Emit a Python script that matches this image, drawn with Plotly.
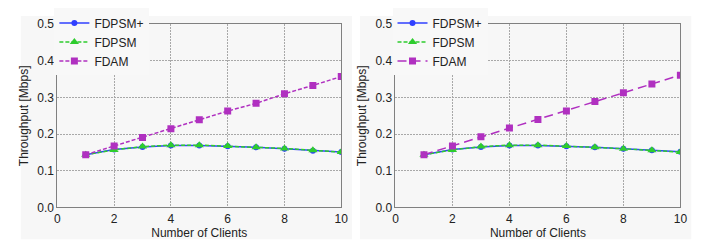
import plotly.graph_objects as go

clients = [1, 2, 3, 4, 5, 6, 7, 8, 9, 10]

# Left panel
left_fdpsm_plus = [0.144, 0.158, 0.165, 0.169, 0.169, 0.167, 0.164, 0.160, 0.155, 0.151]
left_fdpsm = [0.144, 0.157, 0.166, 0.170, 0.170, 0.168, 0.164, 0.161, 0.156, 0.151]
left_fdam = [0.144, 0.168, 0.191, 0.215, 0.239, 0.263, 0.284, 0.310, 0.333, 0.357]

# Right panel
right_fdpsm_plus = [0.144, 0.158, 0.165, 0.169, 0.169, 0.167, 0.164, 0.160, 0.156, 0.152]
right_fdpsm = [0.144, 0.157, 0.166, 0.170, 0.170, 0.168, 0.164, 0.160, 0.156, 0.151]
right_fdam = [0.144, 0.168, 0.193, 0.217, 0.240, 0.263, 0.289, 0.313, 0.337, 0.361]

x_ticks = [0, 2, 4, 6, 8, 10]
y_ticks = [0.0, 0.1, 0.2, 0.3, 0.4, 0.5]
y_tick_labels = ["0.0", "0.1", "0.2", "0.3", "0.4", "0.5"]

series_names = ["FDPSM+", "FDPSM", "FDAM"]
colors = ["#3040ff", "#2ecc2e", "#b030c0"]

W, H = 706, 244
FONT = "Liberation Sans, Arial, sans-serif"

fig = go.Figure()

panels = [
    (left_fdpsm_plus, left_fdpsm, left_fdam, "x", "y", "legend", "4px,2px"),
    (right_fdpsm_plus, right_fdpsm, right_fdam, "x2", "y2", "legend2", "9px,5px"),
]

for plus, psm, fdam, xa, ya, lg, dash in panels:
    fig.add_trace(go.Scatter(x=clients, y=plus, name=series_names[0], xaxis=xa, yaxis=ya, legend=lg,
                             mode="lines+markers", line=dict(color=colors[0], width=1.5),
                             marker=dict(symbol="circle", size=6, color=colors[0])))
    fig.add_trace(go.Scatter(x=clients, y=psm, name=series_names[1], xaxis=xa, yaxis=ya, legend=lg,
                             mode="lines+markers", line=dict(color=colors[1], width=1.5, dash="4px,2px"),
                             marker=dict(symbol="triangle-up", size=8, color=colors[1])))
    fig.add_trace(go.Scatter(x=clients, y=fdam, name=series_names[2], xaxis=xa, yaxis=ya, legend=lg,
                             mode="lines+markers", line=dict(color=colors[2], width=1.5, dash=dash),
                             marker=dict(symbol="square", size=7, color=colors[2])))

def px_x(p):
    return p / W

def px_y(p):
    return 1 - p / H

GRID = "#a8a8a8"
axis_common = dict(
    range=[0, 10], tickvals=x_ticks, showgrid=True, gridcolor=GRID, griddash="2px,1px", gridwidth=1,
    showline=True, linecolor="#808080", linewidth=1, mirror=True, zeroline=False,
    ticks="", tickfont=dict(size=12, color="#222222", family=FONT),
    title=dict(text="Number of Clients", font=dict(size=12, color="#222222", family=FONT), standoff=0),
)
yaxis_common = dict(
    range=[0, 0.5], tickvals=y_ticks, ticktext=y_tick_labels, showgrid=True, gridcolor=GRID,
    griddash="2px,1px", gridwidth=1, showline=True, linecolor="#808080", linewidth=1, mirror=True,
    zeroline=False, ticks="", tickfont=dict(size=12, color="#222222", family=FONT),
    title=dict(text="Throughput [Mbps]", font=dict(size=12, color="#222222", family=FONT), standoff=6),
)

ydom = [px_y(204), px_y(8.7)]
legend_common = dict(xanchor="left", yanchor="top", bgcolor="#f8f8f8",
                     font=dict(size=12, color="#222222", family=FONT), itemwidth=30,
                     tracegroupgap=0, borderwidth=0)
fig.update_layout(
    width=W, height=H,
    margin=dict(l=0, r=0, t=0, b=0),
    paper_bgcolor="white",
    plot_bgcolor="#f8f8f8",
    showlegend=True,
    xaxis=dict(domain=[px_x(47), px_x(335)], anchor="y", **axis_common),
    yaxis=dict(domain=ydom, anchor="x", **yaxis_common),
    xaxis2=dict(domain=[px_x(390), px_x(679)], anchor="y2", **axis_common),
    yaxis2=dict(domain=ydom, anchor="x2", **yaxis_common),
    legend=dict(x=px_x(44), y=px_y(-8), **legend_common),
    legend2=dict(x=px_x(387), y=px_y(-8), **legend_common),
    shapes=[
        dict(type="rect", xref="paper", yref="paper", x0=px_x(10), x1=px_x(346), y0=px_y(238), y1=1,
             fillcolor="#f7f7f7", line=dict(width=0), layer="below"),
        dict(type="rect", xref="paper", yref="paper", x0=px_x(354), x1=px_x(690), y0=px_y(238), y1=1,
             fillcolor="#f7f7f7", line=dict(width=0), layer="below"),
    ],
)

fig.write_html("out.html")
